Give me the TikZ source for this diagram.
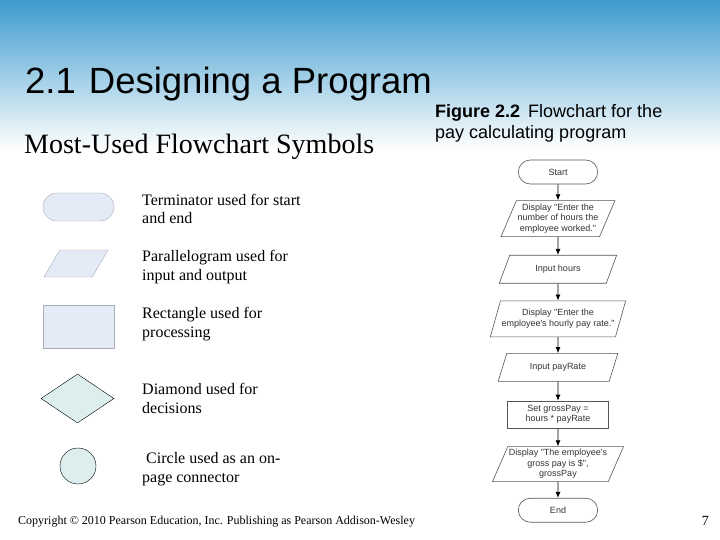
\documentclass[tikz,border=0pt]{standalone}
\usepackage{fontspec}
\setmainfont{Liberation Serif}
\newfontfamily\arialfont{Liberation Sans}
\usetikzlibrary{positioning,shapes.geometric,shapes.misc,arrows.meta}

\definecolor{bandtop}{HTML}{3D9BCD}
\definecolor{bandmid}{HTML}{A3C6E0}
\definecolor{symblue}{HTML}{E4EBF6}
\definecolor{symcyan}{HTML}{DCEEEE}
\definecolor{symedge}{HTML}{A8AEB6}
\definecolor{flowedge}{HTML}{555555}
\definecolor{flowtext}{HTML}{333333}

\begin{document}
\begin{tikzpicture}[x=1pt,y=-1pt,
	symterm/.style={rounded rectangle,draw=symedge,fill=symblue,minimum width=71pt,minimum height=28pt,inner sep=0pt},
	sympara/.style={trapezium,trapezium left angle=64,trapezium right angle=116,trapezium stretches=true,draw=symedge,fill=symblue,minimum width=64pt,minimum height=27pt,inner sep=2pt},
	symrect/.style={rectangle,draw=symedge,fill=symblue,minimum width=71pt,minimum height=43pt,inner sep=0pt},
	symdiam/.style={diamond,draw=black,fill=symcyan,minimum width=73pt,minimum height=49pt,inner sep=0pt},
	symcirc/.style={circle,draw=black,fill=symcyan,minimum size=36pt,inner sep=0pt},
	symlabel/.style={anchor=base west,align=left,inner sep=0pt,font=\fontsize{16}{18.5}\selectfont},
	flowterm/.style={rounded rectangle,draw=flowedge,line width=0.6pt,minimum width=86pt,minimum height=24pt,text=flowtext,font=\arialfont\fontsize{9}{10.5}\selectfont},
	flowio/.style={trapezium,trapezium left angle=64,trapezium right angle=116,trapezium stretches=true,draw=flowedge,line width=0.6pt,align=center,inner sep=1pt,text=flowtext,font=\arialfont\fontsize{9}{10.5}\selectfont},
	flowproc/.style={rectangle,draw=flowedge,line width=0.6pt,minimum width=101pt,minimum height=27pt,align=center,inner sep=1pt,text=flowtext,font=\arialfont\fontsize{9}{10.5}\selectfont},
	flowline/.style={-{Latex[length=6pt,width=5pt]},line width=0.8pt}]

	% page and title band
	\useasboundingbox (0,0) rectangle (720,540);
	\fill[white] (0,0) rectangle (720,540);
	\shade[top color=bandtop,middle color=bandmid,bottom color=white] (0,0) rectangle (720,150);

	\node[anchor=base west,inner sep=0pt,font=\arialfont\fontsize{36.5}{42}\selectfont]	(title)		at (25,94)	{2.1\hspace{13pt}Designing a Program};
	\node[anchor=base west,inner sep=0pt,font=\fontsize{28}{31}\selectfont]				(subtitle)	at (24,154)	{Most-Used Flowchart Symbols};
	\node[anchor=base west,align=left,inner sep=0pt,font=\arialfont\fontsize{18}{21}\selectfont]	(caption)	at (435,139)	{\textbf{Figure 2.2}\hspace{8pt}Flowchart for the\\pay calculating program};

	% symbol legend
	\node[symterm]	(legterm)	at (78.5,207)	{};
	\node[sympara]	(legpara)	at (76,263.5)	{};
	\node[symrect]	(legrect)	at (78.5,326.5)	{};
	\node[symdiam]	(legdiam)	at (77.5,398.5)	{};
	\node[symcirc]	(legcirc)	at (78,466)		{};

	\node[symlabel]	(txtterm)	at (142,224)	{Terminator used for start\\and end};
	\node[symlabel]	(txtpara)	at (142,280)	{Parallelogram used for\\input and output};
	\node[symlabel]	(txtrect)	at (142,337)	{Rectangle used for\\processing};
	\node[symlabel]	(txtdiam)	at (142,413)	{Diamond used for\\decisions};
	\node[symlabel]	(txtcirc)	at (142,482)	{\ Circle used as an on-\\page connector};

	% pay program flowchart
	\node[flowterm]													(start)		at (558,172)	{Start};
	\node[flowio,node distance=16pt,below=of start,minimum width=114pt,minimum height=36pt]		(askhours)	{Display "Enter the\\number of hours the\\employee worked."};
	\node[flowio,node distance=18pt,below=of askhours,minimum width=118pt,minimum height=28pt]	(gethours)	{Input hours};
	\node[flowio,node distance=17pt,below=of gethours,minimum width=132pt,minimum height=36pt]	(askrate)	{Display "Enter the\\employee's hourly pay rate."};
	\node[flowio,node distance=16pt,below=of askrate,minimum width=120pt,minimum height=28pt]	(getrate)	{Input payRate};
	\node[flowproc,node distance=19pt,below=of getrate]											(calcpay)	{Set grossPay =\\hours * payRate};
	\node[flowio,node distance=18pt,below=of calcpay,minimum width=118pt,minimum height=35pt]	(showpay)	{Display "The employee's\\gross pay is \$",\\grossPay};
	\node[flowterm,node distance=16pt,below=of showpay]											(finish)	{End};

	\draw[flowline] (start) -- (askhours);
	\draw[flowline] (askhours) -- (gethours);
	\draw[flowline] (gethours) -- (askrate);
	\draw[flowline] (askrate) -- (getrate);
	\draw[flowline] (getrate) -- (calcpay);
	\draw[flowline] (calcpay) -- (showpay);
	\draw[flowline] (showpay) -- (finish);

	% footer
	\node[anchor=base west,inner sep=0pt,font=\fontsize{12}{14}\selectfont]		(copyright)	at (18,524)	{Copyright © 2010 Pearson Education, Inc. Publishing as Pearson Addison-Wesley};
	\node[anchor=base east,inner sep=0pt,font=\fontsize{14}{16}\selectfont]		(pagenum)	at (709,525)	{7};
\end{tikzpicture}
\end{document}
